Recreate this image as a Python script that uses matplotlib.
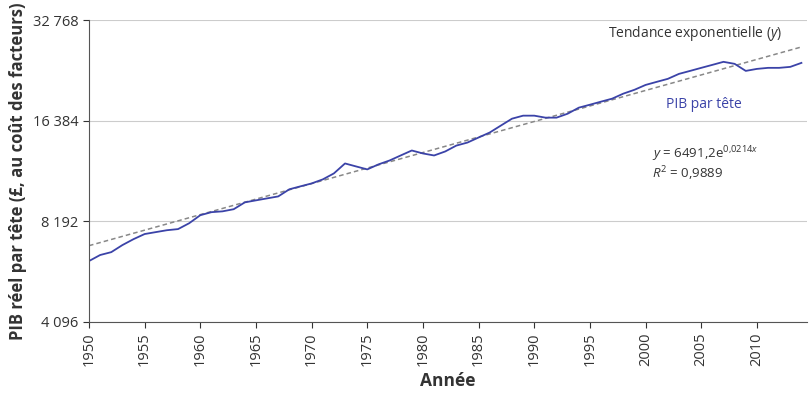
import numpy as np
import matplotlib.pyplot as plt

# ================= DATA =================
years = list(range(1950, 2015))
gdp = [6226, 6490, 6620, 6950, 7240, 7500, 7600, 7700, 7760, 8080,
       8540, 8720, 8770, 8900, 9330, 9460, 9590, 9720, 10210, 10420,
       10630, 10930, 11390, 12200, 11950, 11710, 12120, 12450, 12890, 13340,
       13070, 12890, 13250, 13800, 14090, 14590, 15100, 15840, 16610, 16960,
       16960, 16730, 16730, 17190, 17920, 18290, 18680, 19070, 19740, 20270,
       20960, 21410, 21860, 22620, 23090, 23580, 24070, 24580, 24240, 23090,
       23410, 23580, 23580, 23740, 24400]
y_ticks = [4096, 8192, 16384, 32768]
y_tick_labels = ["4 096", "8 192", "16 384", "32 768"]
x_ticks = list(range(1950, 2015, 5))
# trend: y = 6491.2 e^(0.0214 x)
trend_a, trend_b = 6491.2, 0.0214
# ========================================

plt.rcParams["font.family"] = ["Open Sans", "DejaVu Sans"]
plt.rcParams["mathtext.fontset"] = "custom"
plt.rcParams["mathtext.it"] = "Open Sans:italic"
plt.rcParams["mathtext.rm"] = "Open Sans"

fig = plt.figure(figsize=(8.09, 4.19), dpi=100)
ax = fig.add_axes([0.11, 0.232, 0.8875, 0.72])

yrs = np.array(years)
trend = trend_a * np.exp(trend_b * (yrs - 1947))
ax.plot(yrs, trend, color="#888888", lw=1.1, ls=(0, (3, 2)))
ax.plot(yrs, gdp, color="#3b43a8", lw=1.3)

ax.set_yscale("log", base=2)
ax.set_ylim(4096, 32768)
ax.set_xlim(1950, 2014.5)
ax.set_yticks(y_ticks)
ax.set_yticklabels(y_tick_labels)
ax.minorticks_off()
ax.set_xticks(x_ticks)
ax.set_xticklabels([str(x) for x in x_ticks], rotation=90)
ax.tick_params(labelsize=10.5, colors="#333333", length=4)
for yt in y_ticks:
    ax.axhline(yt, color="#cccccc", lw=0.8, zorder=0)
for s in ["top", "right"]:
    ax.spines[s].set_visible(False)
ax.spines["left"].set_color("#555555")
ax.spines["bottom"].set_color("#555555")

ax.set_xlabel("Année", fontsize=12.5, fontweight="bold", color="#333333")
ax.set_ylabel("PIB réel par tête (£, au coût des facteurs)", fontsize=12,
              fontweight="bold", color="#333333")

ax.text(1996.6, 29900, "Tendance exponentielle ($y$)", fontsize=10,
        color="#333333", va="center")
ax.text(2001.8, 18300, "PIB par tête", fontsize=10, color="#3b43a8", va="center")
ax.text(2000.6, 13000, r"$y$ = 6491,2e$^{0{,}0214x}$", fontsize=9.5,
        color="#333333", va="center")
ax.text(2000.6, 11400, r"$R^2$ = 0,9889", fontsize=9.5, color="#333333", va="center")

fig.savefig("out.png", dpi=100)
